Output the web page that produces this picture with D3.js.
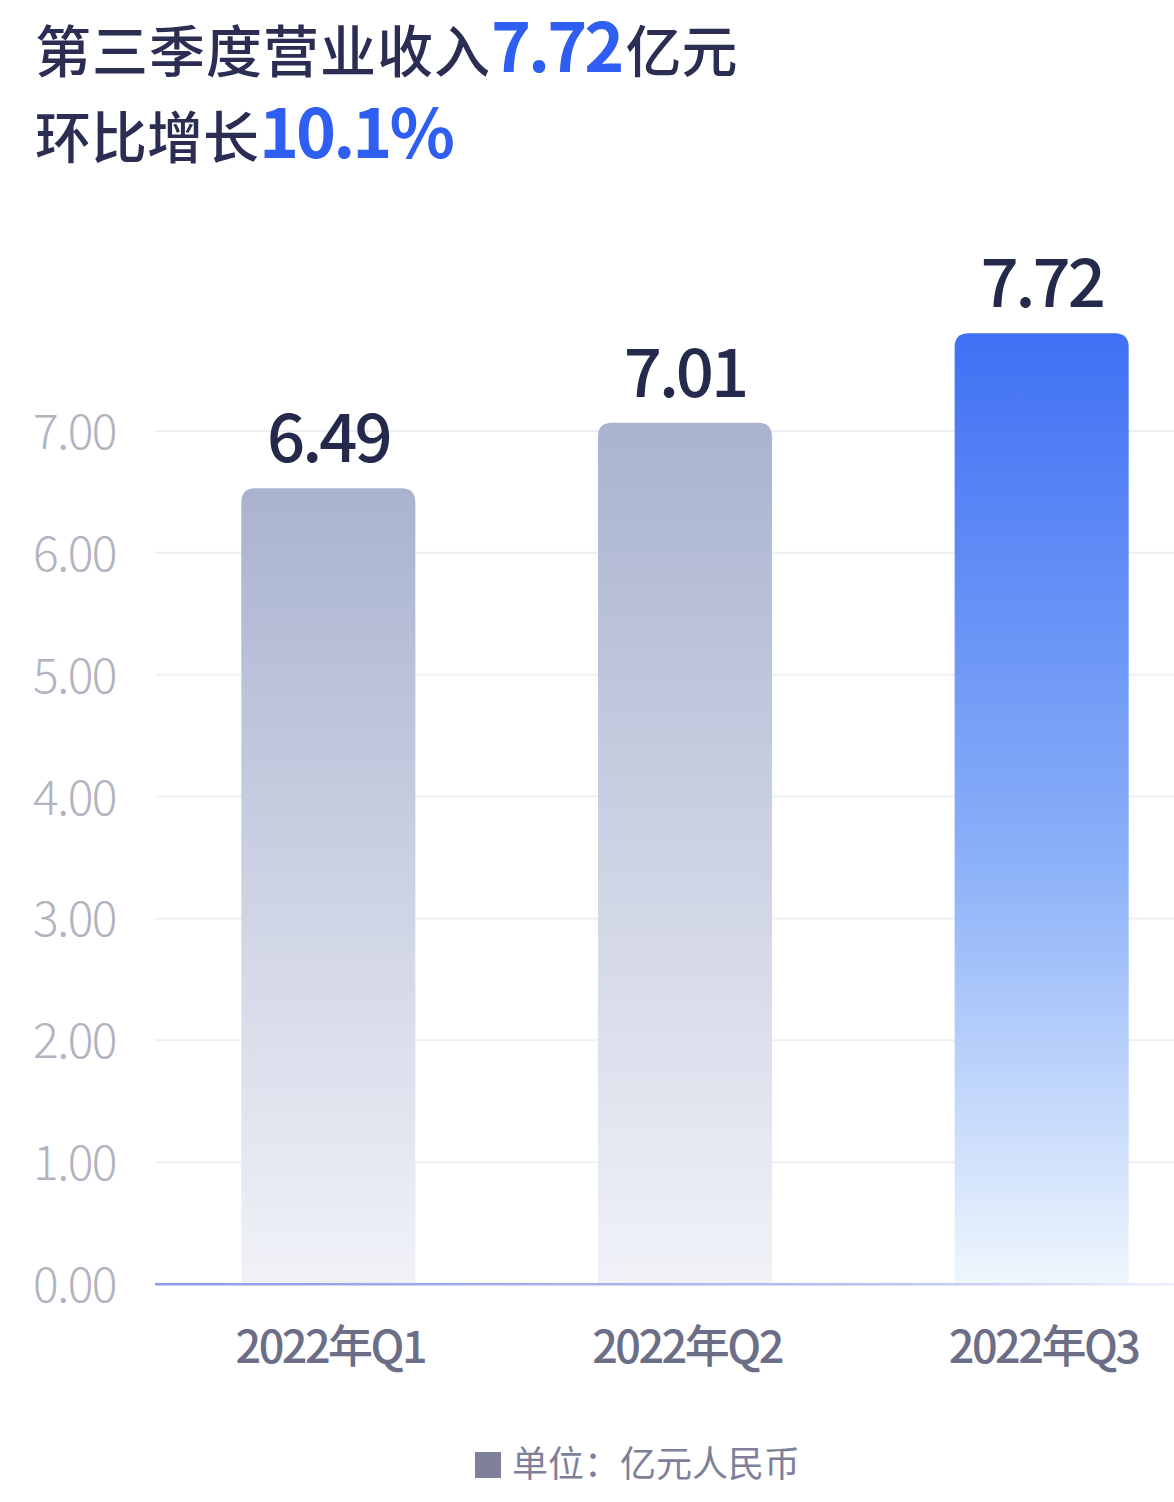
<!DOCTYPE html>
<html><head><meta charset="utf-8">
<script src="https://cdn.jsdelivr.net/npm/d3@7"></script>
<style>
html,body{margin:0;padding:0;background:#fff;}
svg{display:block;font-family:"Noto Sans CJK SC","Noto Sans",sans-serif;}
</style></head>
<body><svg id="c" width="1174" height="1502"></svg>
<script>
const categories = ["2022年Q1","2022年Q2","2022年Q3"];
const values = [6.49, 7.01, 7.72];
const yTicks = [0,1,2,3,4,5,6,7];
const titleLine1 = ["第三季度营业收入","7.72","亿元"];
const titleLine2 = ["环比增长","10.1%"];
const legendText = "单位：亿元人民币";

const svg = d3.select("#c");
const W = 1174, H = 1502;
// axis / grid scale
const y = d3.scaleLinear().domain([0,7]).range([1284,431]);
// bar height scale (bars in the picture are drawn slightly taller than the grid)
const yBar = d3.scaleLinear().domain([0,7]).range([1306,1306-882]);
const x = d3.scaleBand().domain(categories).range([150,1220]).paddingInner(0.512).paddingOuter(0.256);

const defs = svg.append("defs");
const gGray = defs.append("linearGradient").attr("id","gGray").attr("x1",0).attr("y1",0).attr("x2",0).attr("y2",1);
gGray.append("stop").attr("offset","0%").attr("stop-color","#a9b3cf");
gGray.append("stop").attr("offset","100%").attr("stop-color","#f1f2f8");
const gBlue = defs.append("linearGradient").attr("id","gBlue").attr("x1",0).attr("y1",0).attr("x2",0).attr("y2",1);
gBlue.append("stop").attr("offset","0%").attr("stop-color","#4070f4");
gBlue.append("stop").attr("offset","55%").attr("stop-color","#8ab0f8");
gBlue.append("stop").attr("offset","100%").attr("stop-color","#eff6fd");
const gAxis = defs.append("linearGradient").attr("id","gAxis").attr("x1",0).attr("y1",0).attr("x2",1).attr("y2",0);
gAxis.append("stop").attr("offset","0%").attr("stop-color","#8c9cec");
gAxis.append("stop").attr("offset","70%").attr("stop-color","#b7c0f2");
gAxis.append("stop").attr("offset","100%").attr("stop-color","#eef0fa");

// title
const t1 = svg.append("text").attr("x",35).attr("y",72).attr("fill","#2b2e52").attr("font-weight",500);
t1.append("tspan").attr("font-size",56).attr("letter-spacing",1).text(titleLine1[0]);
t1.append("tspan").attr("font-size",68).attr("fill","#2f5ff2").attr("font-weight",700).attr("letter-spacing",-3).text(titleLine1[1]);
t1.append("tspan").attr("font-size",56).attr("dx",4).text(titleLine1[2]);
const t2 = svg.append("text").attr("x",35).attr("y",158).attr("fill","#2b2e52").attr("font-weight",500);
t2.append("tspan").attr("font-size",56).text(titleLine2[0]);
t2.append("tspan").attr("font-size",68).attr("fill","#2f5ff2").attr("font-weight",700).attr("letter-spacing",-3).text(titleLine2[1]);

// grid
svg.append("g").selectAll("line").data(yTicks.filter(d=>d>0)).join("line")
  .attr("x1",155).attr("x2",W).attr("y1",d=>y(d)).attr("y2",d=>y(d))
  .attr("stroke","#eeeff5").attr("stroke-width",2);

// y axis labels
svg.append("g").selectAll("text").data(yTicks).join("text")
  .attr("x",33).attr("y",d=>y(d)+18).attr("font-size",48).attr("font-weight",300)
  .attr("fill","#b2b3c0").attr("letter-spacing",-1.5).text(d=>d3.format(".2f")(d));

// bars
const r = 14;
svg.append("g").selectAll("path").data(values).join("path")
  .attr("d",(d,i)=>{
    const x0 = x(categories[i]), w = x.bandwidth(), y0 = yBar(d), yb = y(0);
    return `M${x0},${yb}V${y0+r}Q${x0},${y0} ${x0+r},${y0}H${x0+w-r}Q${x0+w},${y0} ${x0+w},${y0+r}V${yb}Z`;
  })
  .attr("fill",(d,i)=> i===values.length-1 ? "url(#gBlue)" : "url(#gGray)");

// axis line
svg.append("rect").attr("x",155).attr("y",y(0)-1).attr("width",W-155).attr("height",2.5).attr("fill","url(#gAxis)");

// value labels
svg.append("g").selectAll("text").data(values).join("text")
  .attr("x",(d,i)=>x(categories[i])+x.bandwidth()/2).attr("y",d=>yBar(d)-26)
  .attr("text-anchor","middle").attr("font-size",67).attr("font-weight",500)
  .attr("fill","#252a4c").attr("letter-spacing",-3).text(d=>d.toFixed(2));

// category labels
svg.append("g").selectAll("text").data(categories).join("text")
  .attr("x",d=>x(d)+x.bandwidth()/2+2).attr("y",1363)
  .attr("text-anchor","middle").attr("font-size",45).attr("font-weight",500)
  .attr("fill","#6c6e88").attr("letter-spacing",-2.5).text(d=>d);

// legend
svg.append("rect").attr("x",475).attr("y",1452).attr("width",26).attr("height",26).attr("fill","#7e8099");
svg.append("text").attr("x",512).attr("y",1477).attr("font-size",36).attr("fill","#7e8099").text(legendText);
</script></body></html>
